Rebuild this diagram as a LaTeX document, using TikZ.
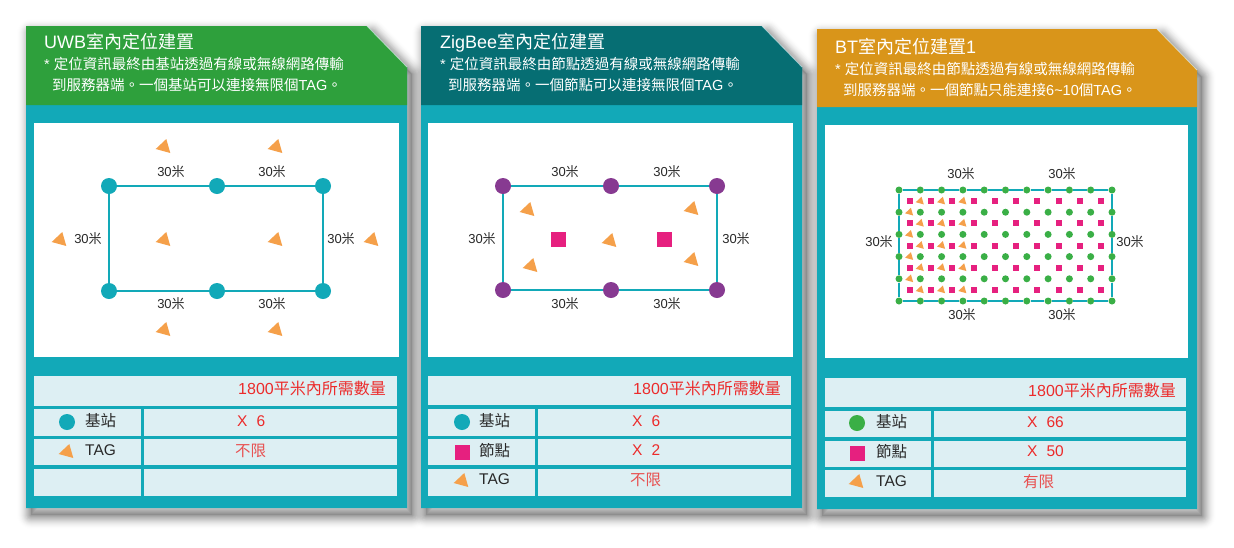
\documentclass[tikz,border=0pt]{standalone}
\usepackage{fontspec}
\setmainfont{Liberation Sans}
\newfontfamily\cjk{Noto Sans CJK TC}
\definecolor{hgreen}{RGB}{46,160,60}
\definecolor{hdark}{RGB}{6,110,115}
\definecolor{horange}{RGB}{217,149,26}
\definecolor{cardteal}{RGB}{18,169,184}
\definecolor{cellbg}{RGB}{221,239,243}
\definecolor{purp}{RGB}{135,58,145}
\definecolor{pinkc}{RGB}{230,32,127}
\definecolor{tagc}{RGB}{245,160,74}
\definecolor{gdotc}{RGB}{58,175,70}
\definecolor{valc}{RGB}{236,43,43}
\definecolor{valc2}{RGB}{232,80,80}
\definecolor{lblc}{RGB}{40,40,40}
\tikzset{
  txt/.style={inner sep=0pt, text height=0.76em, text depth=0pt},
  ttl/.style={txt, text=white, font=\fontsize{18}{20}\selectfont, anchor=west},
  subt/.style={txt, text=white, font=\fontsize{14.5}{17}\selectfont, anchor=west},
  dimt/.style={txt, text=lblc, font=\fontsize{13}{15}\selectfont},
  tblt/.style={txt, text=lblc, font=\fontsize{15.5}{18}\selectfont, anchor=west},
  valt/.style={txt, text=valc, font=\fontsize{15.5}{18}\selectfont, anchor=west},
  sumt/.style={txt, text=valc, font=\fontsize{16}{18}\selectfont, anchor=east},
  tdot/.style={circle, fill=cardteal, inner sep=0pt, minimum size=16pt},
  pdot/.style={circle, fill=purp, inner sep=0pt, minimum size=16pt},
  gbig/.style={circle, fill=gdotc, inner sep=0pt, minimum size=16pt},
  gdot/.style={circle, fill=gdotc, inner sep=0pt, minimum size=7pt},
  psq/.style={rectangle, fill=pinkc, inner sep=0pt, minimum size=15pt},
  psqs/.style={rectangle, fill=pinkc, inner sep=0pt, minimum size=6pt},
  edge1/.style={draw=cardteal, line width=1.6pt},
  edge3/.style={draw=cardteal, line width=2pt},
  tag/.pic={\fill[tagc] (2.3,-8) -- (-8.3,2) -- (6.3,6) -- cycle;}
}
\newcommand\drawcard[6]{%
  \begin{scope}[shift={(5,7)}]
    \foreach \w [evaluate=\w as \o using 0.06-0.002*\w] in {2,4,...,28}
      \draw[line width=\w pt, line join=round, black, opacity=\o]
        (#1,#2) -- ({#3-40},#2) -- (#3,{#2+41}) -- (#3,#4) -- (#1,#4) -- cycle;
    \fill[black, opacity=0.12] (#1,#2) -- ({#3-40},#2) -- (#3,{#2+41}) -- (#3,#4) -- (#1,#4) -- cycle;
  \end{scope}
  \fill[cardteal] (#1,#2) -- ({#3-40},#2) -- (#3,{#2+41}) -- (#3,#4) -- (#1,#4) -- cycle;
  \fill[#6] (#1,#2) -- ({#3-40},#2) -- (#3,{#2+41}) -- (#3,#5) -- (#1,#5) -- cycle;
  \draw[white, opacity=0.6, line width=0.8pt] ({#3-40},#2) -- (#3,{#2+41});
}
\begin{document}
\begin{tikzpicture}[x=1pt,y=-1pt]
\useasboundingbox (0,0) rectangle (1234,547);
\fill[white] (0,0) rectangle (1234,547);

% ================= cards =================
\drawcard{26}{26}{407}{508}{105}{hgreen}
\drawcard{421}{26}{802}{508}{105}{hdark}
\drawcard{817}{29}{1197}{509}{107}{horange}

% ================= headers =================
\node[ttl] (t1) at (44,45) {UWB{\cjk 室內定位建置}};
\node[subt] (s1a) at (44,66) {*\ {\cjk 定位資訊最終由基站透過有線或無線網路傳輸}};
\node[subt] (s1b) at (52,87) {{\cjk 到服務器端。一個基站可以連接無限個}TAG{\cjk 。}};

\node[ttl] (t2) at (440,45) {ZigBee{\cjk 室內定位建置}};
\node[subt] (s2a) at (440,66) {*\ {\cjk 定位資訊最終由節點透過有線或無線網路傳輸}};
\node[subt] (s2b) at (448,87) {{\cjk 到服務器端。一個節點可以連接無限個}TAG{\cjk 。}};

\node[ttl] (t3) at (835,50) {BT{\cjk 室內定位建置}1};
\node[subt] (s3a) at (835,71) {*\ {\cjk 定位資訊最終由節點透過有線或無線網路傳輸}};
\node[subt] (s3b) at (843,92) {{\cjk 到服務器端。一個節點只能連接}6\textasciitilde10{\cjk 個}TAG{\cjk 。}};

% ================= white areas =================
\fill[white] (34,123) rectangle (399,357);
\fill[white] (428,123) rectangle (793,357);
\fill[white] (825,125) rectangle (1188,358);

% ================= card 1 diagram =================
\node[tdot] (u1) at (109,186) {};
\node[tdot] (u2) at (217,186) {};
\node[tdot] (u3) at (323,186) {};
\node[tdot] (u4) at (109,291) {};
\node[tdot] (u5) at (217,291) {};
\node[tdot] (u6) at (323,291) {};
\draw[edge1] (u1) -- (u2);
\draw[edge1] (u2) -- (u3);
\draw[edge1] (u3) -- (u6);
\draw[edge1] (u6) -- (u5);
\draw[edge1] (u5) -- (u4);
\draw[edge1] (u4) -- (u1);
\node[dimt] (d1a) at (171,173) {30{\cjk 米}};
\node[dimt] (d1b) at (272,173) {30{\cjk 米}};
\node[dimt] (d1c) at (88,240) {30{\cjk 米}};
\node[dimt] (d1d) at (341,240) {30{\cjk 米}};
\node[dimt] (d1e) at (171,305) {30{\cjk 米}};
\node[dimt] (d1f) at (272,305) {30{\cjk 米}};
\pic at (164,147) {tag};
\pic at (276,147) {tag};
\pic at (60,240) {tag};
\pic at (164,240) {tag};
\pic at (276,240) {tag};
\pic at (372,240) {tag};
\pic at (164,330) {tag};
\pic at (276,330) {tag};

% ================= card 2 diagram =================
\node[pdot] (p1) at (503,186) {};
\node[pdot] (p2) at (611,186) {};
\node[pdot] (p3) at (717,186) {};
\node[pdot] (p4) at (503,290) {};
\node[pdot] (p5) at (611,290) {};
\node[pdot] (p6) at (717,290) {};
\draw[edge1] (p1) -- (p2);
\draw[edge1] (p2) -- (p3);
\draw[edge1] (p3) -- (p6);
\draw[edge1] (p6) -- (p5);
\draw[edge1] (p5) -- (p4);
\draw[edge1] (p4) -- (p1);
\node[psq] (q1) at (558,239) {};
\node[psq] (q2) at (664,239) {};
\node[dimt] (d2a) at (565,173) {30{\cjk 米}};
\node[dimt] (d2b) at (667,173) {30{\cjk 米}};
\node[dimt] (d2c) at (482,240) {30{\cjk 米}};
\node[dimt] (d2d) at (736,240) {30{\cjk 米}};
\node[dimt] (d2e) at (565,305) {30{\cjk 米}};
\node[dimt] (d2f) at (667,305) {30{\cjk 米}};
\pic at (528,210) {tag};
\pic at (531,266) {tag};
\pic at (610,241) {tag};
\pic at (692,209) {tag};
\pic at (692,260) {tag};

% ================= card 3 diagram =================
\foreach \i in {0,...,10}
  \foreach \j in {0,...,5}
    \node[gdot] (g-\i-\j) at ({899+21.3*\i},{190+22.2*\j}) {};
\foreach \i [evaluate=\i as \k using int(\i+1)] in {0,...,9} {
  \draw[edge3] (g-\i-0) -- (g-\k-0);
  \draw[edge3] (g-\i-5) -- (g-\k-5);
}
\foreach \j [evaluate=\j as \k using int(\j+1)] in {0,...,4} {
  \draw[edge3] (g-0-\j) -- (g-0-\k);
  \draw[edge3] (g-10-\j) -- (g-10-\k);
}
\foreach \i in {0,...,9}
  \foreach \j in {0,...,4}
    \node[psqs] (n-\i-\j) at ({909.65+21.3*\i},{201.1+22.2*\j}) {};
\foreach \i in {1,2,3}
  \foreach \j in {0,...,4}
    \pic[scale=0.55] at ({899+21.3*\i},{201.1+22.2*\j}) {tag};
\foreach \j in {1,...,4}
  \pic[scale=0.55] at (909.65,{190+22.2*\j}) {tag};
\node[dimt] (d3a) at (961,175) {30{\cjk 米}};
\node[dimt] (d3b) at (1062,175) {30{\cjk 米}};
\node[dimt] (d3c) at (879,243) {30{\cjk 米}};
\node[dimt] (d3d) at (1130,243) {30{\cjk 米}};
\node[dimt] (d3e) at (962,316) {30{\cjk 米}};
\node[dimt] (d3f) at (1062,316) {30{\cjk 米}};

% ================= tables =================
% card 1
\fill[cellbg] (34,376) rectangle (397,406);
\fill[cellbg] (34,409) rectangle (141,436);
\fill[cellbg] (144,409) rectangle (397,436);
\fill[cellbg] (34,439) rectangle (141,465);
\fill[cellbg] (144,439) rectangle (397,465);
\fill[cellbg] (34,469) rectangle (141,496);
\fill[cellbg] (144,469) rectangle (397,496);
\node[sumt] (m1) at (386,391) {1800{\cjk 平米內所需數量}};
\node[tdot] (i1a) at (67,422) {};
\node[tblt] (l1a) at (85,423) {\cjk 基站};
\node[valt] (v1a) at (237,423) {X\hspace{9pt}6};
\pic at (67,452) {tag};
\node[tblt] (l1b) at (85,452) {TAG};
\node[valt, text=valc2] (v1b) at (235,453) {\cjk 不限};

% card 2
\fill[cellbg] (428,376) rectangle (791,405);
\fill[cellbg] (428,409) rectangle (535,436);
\fill[cellbg] (538,409) rectangle (791,436);
\fill[cellbg] (428,439) rectangle (535,465);
\fill[cellbg] (538,439) rectangle (791,465);
\fill[cellbg] (428,469) rectangle (535,496);
\fill[cellbg] (538,469) rectangle (791,496);
\node[sumt] (m2) at (781,391) {1800{\cjk 平米內所需數量}};
\node[tdot] (i2a) at (462,422) {};
\node[tblt] (l2a) at (479,423) {\cjk 基站};
\node[valt] (v2a) at (632,423) {X\hspace{9pt}6};
\node[psq] (i2b) at (462,452) {};
\node[tblt] (l2b) at (479,453) {\cjk 節點};
\node[valt] (v2b) at (632,452) {X\hspace{9pt}2};
\pic at (462,481) {tag};
\node[tblt] (l2c) at (479,481) {TAG};
\node[valt, text=valc2] (v2c) at (630,482) {\cjk 不限};

% card 3
\fill[cellbg] (825,378) rectangle (1186,407);
\fill[cellbg] (825,411) rectangle (931,437);
\fill[cellbg] (934,411) rectangle (1186,437);
\fill[cellbg] (825,441) rectangle (931,467);
\fill[cellbg] (934,441) rectangle (1186,467);
\fill[cellbg] (825,470) rectangle (931,497);
\fill[cellbg] (934,470) rectangle (1186,497);
\node[sumt] (m3) at (1176,393) {1800{\cjk 平米內所需數量}};
\node[gbig] (i3a) at (857,423) {};
\node[tblt] (l3a) at (876,424) {\cjk 基站};
\node[valt] (v3a) at (1027,424) {X\hspace{9pt}66};
\node[psq] (i3b) at (857,453) {};
\node[tblt] (l3b) at (876,454) {\cjk 節點};
\node[valt] (v3b) at (1027,453) {X\hspace{9pt}50};
\pic at (857,482) {tag};
\node[tblt] (l3c) at (876,483) {TAG};
\node[valt, text=valc2] (v3c) at (1023,484) {\cjk 有限};
\end{tikzpicture}
\end{document}
